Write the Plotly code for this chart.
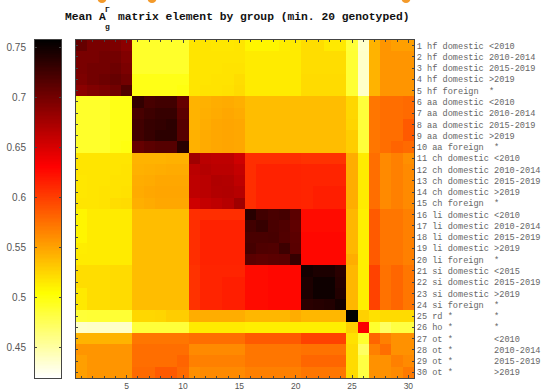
import plotly.graph_objects as go
import numpy as np

W, H = 541, 392

nums = list(range(1, 31))
groups = ["hf"] * 5 + ["aa"] * 5 + ["ch"] * 5 + ["li"] * 5 + ["si"] * 4 + ["rd", "ho"] + ["ot"] * 4
types = (["domestic"] * 4 + ["foreign"]) * 4 + ["domestic"] * 3 + ["foreign"] + ["*", "*"] + ["*"] * 4
periods = (["<2010", "2010-2014", "2015-2019", ">2019", "*"] * 4
           + ["<2015", "2015-2019", ">2019", "*"] + ["*", "*"]
           + ["<2010", "2010-2014", "2015-2019", ">2019"])

x_tick_vals = [5, 10, 15, 20, 25, 30]
cb_tick_vals = [0.45, 0.5, 0.55, 0.6, 0.65, 0.7, 0.75]
cb_tick_text = ["0.45", "0.5", "0.55", "0.6", "0.65", "0.7", "0.75"]
zmin, zmax = 0.42, 0.757

# mean matrix element by group pair (rows/cols 1..30)
matrix = [
    [.707, .697, .697, .695, .688, .490, .490, .490, .490, .490, .517, .517, .516, .516, .517, .509, .509, .509, .513, .514, .521, .521, .515, .515, .486, .437, .542, .557, .552, .552],
    [.697, .697, .700, .700, .693, .490, .490, .490, .490, .490, .517, .517, .517, .517, .517, .514, .514, .514, .514, .514, .521, .521, .521, .521, .487, .438, .542, .557, .557, .557],
    [.697, .700, .700, .703, .696, .490, .490, .490, .490, .490, .517, .517, .517, .518, .518, .514, .514, .514, .514, .514, .521, .521, .521, .521, .487, .438, .542, .557, .557, .557],
    [.695, .700, .703, .707, .701, .497, .497, .497, .497, .497, .517, .517, .518, .518, .521, .514, .514, .514, .514, .514, .522, .522, .522, .522, .487, .438, .542, .557, .557, .557],
    [.688, .693, .696, .701, .717, .497, .497, .497, .497, .499, .517, .518, .518, .519, .522, .514, .514, .514, .514, .514, .522, .522, .522, .522, .487, .438, .542, .557, .557, .557],
    [.490, .490, .490, .497, .497, .732, .722, .725, .725, .707, .542, .543, .545, .546, .544, .537, .537, .537, .537, .537, .537, .537, .537, .537, .524, .485, .572, .576, .576, .578],
    [.490, .490, .490, .497, .497, .722, .727, .730, .730, .712, .542, .544, .546, .548, .546, .537, .537, .537, .537, .537, .537, .537, .537, .537, .524, .485, .572, .576, .576, .578],
    [.490, .490, .490, .497, .497, .725, .730, .732, .735, .715, .542, .545, .548, .549, .548, .537, .537, .537, .537, .537, .537, .537, .537, .537, .525, .485, .572, .576, .576, .586],
    [.490, .490, .490, .497, .497, .725, .730, .735, .735, .715, .543, .546, .548, .549, .548, .537, .537, .537, .537, .537, .537, .537, .537, .537, .529, .485, .572, .576, .576, .586],
    [.490, .490, .490, .497, .499, .707, .712, .715, .715, .737, .543, .546, .548, .549, .548, .537, .537, .537, .537, .537, .537, .537, .537, .537, .529, .485, .572, .576, .581, .578],
    [.517, .517, .517, .517, .517, .542, .542, .542, .543, .543, .678, .665, .663, .663, .655, .608, .608, .608, .608, .608, .606, .606, .606, .606, .545, .514, .576, .562, .567, .560],
    [.517, .517, .517, .517, .518, .543, .544, .545, .546, .546, .665, .668, .665, .665, .660, .608, .614, .614, .614, .614, .613, .613, .613, .613, .545, .514, .576, .562, .567, .562],
    [.516, .517, .517, .518, .518, .545, .546, .548, .548, .548, .663, .665, .670, .669, .663, .608, .614, .614, .614, .614, .613, .613, .613, .613, .545, .514, .576, .562, .567, .562],
    [.516, .517, .518, .518, .519, .546, .548, .549, .549, .549, .663, .665, .669, .670, .667, .608, .614, .614, .614, .614, .613, .616, .616, .616, .545, .514, .576, .562, .567, .562],
    [.517, .517, .518, .521, .522, .544, .546, .548, .548, .548, .655, .660, .663, .667, .678, .608, .614, .614, .614, .614, .613, .616, .616, .616, .545, .514, .576, .562, .567, .562],
    [.509, .514, .514, .514, .514, .537, .537, .537, .537, .537, .608, .608, .608, .608, .608, .737, .725, .721, .723, .712, .625, .625, .625, .625, .540, .512, .586, .572, .572, .567],
    [.509, .514, .514, .514, .514, .537, .537, .537, .537, .537, .608, .614, .614, .614, .614, .725, .730, .721, .718, .710, .625, .625, .625, .625, .540, .512, .586, .572, .572, .567],
    [.509, .514, .514, .514, .514, .537, .537, .537, .537, .537, .608, .614, .614, .614, .614, .721, .721, .722, .717, .712, .627, .627, .627, .627, .540, .512, .586, .572, .572, .567],
    [.513, .514, .514, .514, .514, .537, .537, .537, .537, .537, .608, .614, .614, .614, .614, .723, .718, .717, .727, .713, .627, .627, .627, .627, .540, .512, .586, .572, .572, .567],
    [.514, .514, .514, .514, .514, .537, .537, .537, .537, .537, .608, .614, .614, .614, .614, .712, .710, .712, .713, .730, .627, .627, .627, .627, .545, .512, .586, .572, .572, .567],
    [.521, .521, .521, .522, .522, .537, .537, .537, .537, .537, .606, .613, .613, .613, .613, .625, .625, .627, .627, .627, .747, .743, .743, .736, .540, .512, .598, .574, .580, .572],
    [.521, .521, .521, .522, .522, .537, .537, .537, .537, .537, .606, .613, .613, .616, .616, .625, .625, .627, .627, .627, .743, .750, .750, .738, .540, .512, .598, .574, .580, .572],
    [.515, .521, .521, .522, .522, .537, .537, .537, .537, .537, .606, .613, .613, .616, .616, .625, .625, .627, .627, .627, .743, .750, .750, .740, .540, .512, .598, .574, .580, .572],
    [.515, .521, .521, .522, .522, .537, .537, .537, .537, .537, .606, .613, .613, .616, .616, .625, .625, .627, .627, .627, .736, .738, .740, .747, .540, .512, .598, .574, .580, .572],
    [.486, .487, .487, .487, .487, .524, .524, .525, .529, .529, .545, .545, .545, .545, .545, .540, .540, .540, .540, .545, .540, .540, .540, .540, .756, .527, .519, .522, .522, .522],
    [.437, .438, .438, .438, .438, .485, .485, .485, .485, .485, .514, .514, .514, .514, .514, .512, .512, .512, .512, .512, .512, .512, .512, .512, .527, .632, .489, .472, .482, .482],
    [.542, .542, .542, .542, .542, .572, .572, .572, .572, .572, .576, .576, .576, .576, .576, .586, .586, .586, .586, .586, .598, .598, .598, .598, .519, .489, .581, .567, .559, .559],
    [.557, .557, .557, .557, .557, .576, .576, .576, .576, .576, .562, .562, .562, .562, .562, .572, .572, .572, .572, .572, .574, .574, .574, .574, .522, .472, .567, .576, .559, .559],
    [.552, .557, .557, .557, .557, .576, .576, .576, .576, .581, .567, .567, .567, .567, .567, .572, .572, .572, .572, .572, .580, .580, .580, .580, .522, .482, .559, .559, .567, .562],
    [.552, .557, .557, .557, .557, .578, .578, .586, .586, .578, .560, .562, .562, .562, .562, .567, .567, .567, .567, .567, .572, .572, .572, .572, .522, .482, .559, .559, .562, .570],
]

hot_r = [[0.0, "rgb(255,255,255)"], [0.25, "rgb(255,255,0)"],
         [0.625, "rgb(255,0,0)"], [1.0, "rgb(0,0,0)"]]

NB = "\u00a0"
labels = [f"{n} {g} {t:<8} {p}".replace(" ", NB) for n, g, t, p in zip(nums, groups, types, periods)]


def px(x):
    return x / W


def py(y):
    return 1 - y / H


cb_vals = np.linspace(zmin, zmax, 256)

fig = go.Figure()
fig.add_trace(go.Heatmap(z=matrix, x=nums, y=nums, colorscale=hot_r, zmin=zmin, zmax=zmax,
                         showscale=False, hoverinfo="skip"))
fig.add_trace(go.Heatmap(z=[[v] for v in cb_vals], x=[0], y=cb_vals, colorscale=hot_r,
                         zmin=zmin, zmax=zmax, showscale=False, xaxis="x2", yaxis="y2",
                         hoverinfo="skip"))

axcol = "#444444"
tickcol = "#555555"
sans = "Liberation Sans, Arial, sans-serif"
mono = "Liberation Mono, Courier New, monospace"

fig.update_layout(
    width=W, height=H,
    margin=dict(l=0, r=0, t=0, b=0),
    paper_bgcolor="white", plot_bgcolor="white",
    showlegend=False,
    xaxis=dict(domain=[px(76), px(414)], range=[0.5, 30.5], tickvals=x_tick_vals,
               ticks="inside", ticklen=3, tickcolor=axcol, showline=True, linecolor=axcol,
               linewidth=1, mirror="ticks", showgrid=False, zeroline=False,
               minor=dict(dtick=1, tick0=0, ticks="inside", ticklen=2, tickcolor=axcol, showgrid=False),
               tickfont=dict(family=sans, size=8.5, color=tickcol), anchor="y",
               automargin=False, ticklabelstandoff=0),
    yaxis=dict(domain=[py(378), py(40)], range=[30.5, 0.5], side="right",
               tickvals=nums, ticktext=labels, ticks="inside", ticklen=2, tickcolor=axcol,
               showline=True, linecolor=axcol, linewidth=1, mirror="ticks",
               showgrid=False, zeroline=False, anchor="x",
               tickfont=dict(family=mono, size=8.6, color="#666666"), automargin=False),
    xaxis2=dict(domain=[px(35), px(61)], range=[-0.5, 0.5], showticklabels=False,
                ticks="", showline=True, linecolor=axcol, linewidth=1, mirror=True,
                showgrid=False, zeroline=False, anchor="y2"),
    yaxis2=dict(domain=[py(378), py(40)], range=[zmin, zmax], side="left",
                tickvals=cb_tick_vals, ticktext=cb_tick_text, ticks="inside", ticklen=2,
                tickcolor=axcol, showline=True, linecolor=axcol, linewidth=1, mirror="ticks",
                showgrid=False, zeroline=False, anchor="x2",
                tickfont=dict(family=sans, size=10, color=tickcol), automargin=False,
                ticklabelstandoff=6),
)

title_font = dict(family=mono, size=11.3, color="#111111", weight="bold")
sub_font = dict(family=mono, size=8, color="#111111", weight="bold")
fig.add_annotation(text="Mean A", x=px(62.5), y=py(17), xref="paper", yref="paper",
                   xanchor="left", yanchor="middle", showarrow=False, font=title_font)
fig.add_annotation(text="Γ", x=px(107.5), y=py(9), xref="paper", yref="paper",
                   xanchor="center", yanchor="middle", showarrow=False, font=sub_font)
fig.add_annotation(text="g", x=px(107.5), y=py(26), xref="paper", yref="paper",
                   xanchor="center", yanchor="middle", showarrow=False, font=sub_font)
fig.add_annotation(text="matrix element by group (min. 20 genotyped)", x=px(116), y=py(17),
                   xref="paper", yref="paper", xanchor="left", yanchor="middle",
                   showarrow=False, font=title_font)

for cx in [102, 152, 406]:
    fig.add_shape(type="circle", xref="paper", yref="paper",
                  x0=px(cx - 4.5), x1=px(cx + 4.5), y0=py(3), y1=py(-6),
                  fillcolor="#f39a2b", line=dict(width=0))

fig.write_html("out.html")
